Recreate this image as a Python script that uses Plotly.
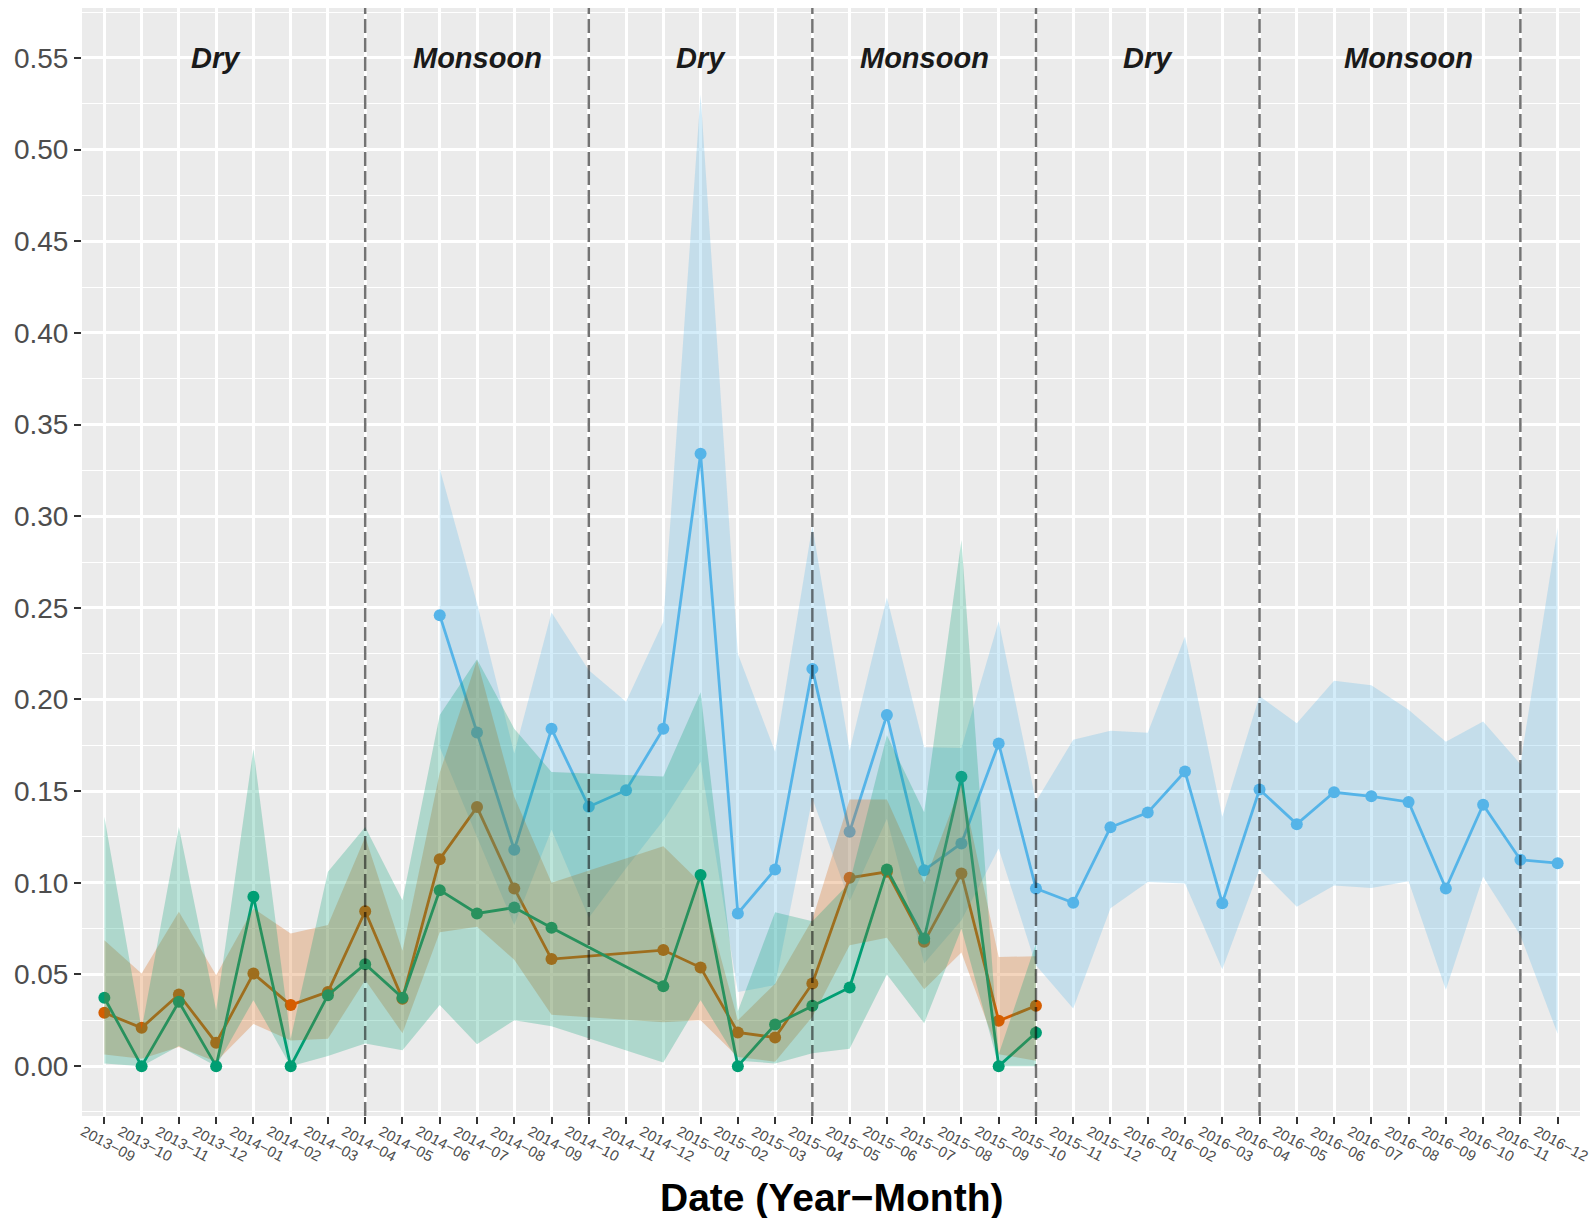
import plotly.graph_objects as go

months = ["2013−09", "2013−10", "2013−11", "2013−12", "2014−01", "2014−02", "2014−03", "2014−04",
          "2014−05", "2014−06", "2014−07", "2014−08", "2014−09", "2014−10", "2014−11", "2014−12",
          "2015−01", "2015−02", "2015−03", "2015−04", "2015−05", "2015−06", "2015−07", "2015−08",
          "2015−09", "2015−10", "2015−11", "2015−12", "2016−01", "2016−02", "2016−03", "2016−04",
          "2016−05", "2016−06", "2016−07", "2016−08", "2016−09", "2016−10", "2016−11", "2016−12"]

N = None
blue_mean = [N, N, N, N, N, N, N, N, N,
             0.246, 0.182, 0.118, 0.184, 0.1415, 0.1505, 0.184, 0.334, 0.0833, 0.1073, 0.2167,
             0.1278, 0.1915, 0.1069, 0.1215, 0.176, 0.0969, 0.0891, 0.1303, 0.1383, 0.1607,
             0.0889, 0.1509, 0.132, 0.1494, 0.1472, 0.1441, 0.0969, 0.1426, 0.1126, 0.1107]
blue_upper = [N, N, N, N, N, N, N, N, N,
              0.326, 0.2525, 0.1705, 0.2475, 0.216, 0.1987, 0.2424, 0.530, 0.225, 0.1715, 0.2947,
              0.172, 0.2556, 0.174, 0.1735, 0.2427, 0.1444, 0.178, 0.183, 0.1819, 0.2343,
              0.1361, 0.2019, 0.187, 0.2102, 0.2078, 0.1944, 0.1769, 0.188, 0.1648, 0.2935]
blue_lower = [N, N, N, N, N, N, N, N, N,
              0.174, 0.125, 0.077, 0.129, 0.081, 0.108, 0.134, 0.166, 0.0405, 0.0442, 0.146,
              0.09, 0.135, 0.056, 0.0796, 0.1187, 0.055, 0.0315, 0.0861, 0.1004, 0.0996,
              0.0528, 0.1074, 0.087, 0.0985, 0.0972, 0.1009, 0.0417, 0.1033, 0.0713, 0.0176]

orange_mean = [0.0291, 0.0209, 0.0391, 0.0127, 0.0505, 0.0333, 0.0405, 0.0845, 0.0367, 0.1129,
               0.1413, 0.0969, 0.0584, N, N, 0.0633, 0.0538, 0.0184, 0.0156, 0.0451,
               0.1027, 0.106, 0.0678, 0.1051, 0.0247, 0.0329] + [N] * 14
orange_upper = [0.0687, 0.0505, 0.0842, 0.0496, 0.086, 0.0724, 0.077, 0.125, 0.063, 0.16,
                0.2215, 0.147, 0.10, N, N, 0.12, 0.10, 0.025, 0.045, 0.08,
                0.1454, 0.1454, 0.10, 0.154, 0.0595, 0.06] + [N] * 14
orange_lower = [0.0064, 0.004, 0.0105, 0.0024, 0.023, 0.014, 0.015, 0.047, 0.018, 0.073,
                0.076, 0.058, 0.028, N, N, 0.024, 0.025, 0.005, 0.0024, 0.027,
                0.066, 0.07, 0.042, 0.062, 0.0065, 0.003] + [N] * 14

green_mean = [0.0373, 0.0, 0.0351, 0.0, 0.0924, 0.0, 0.0387, 0.0556, 0.0373, 0.096,
              0.0833, 0.0865, 0.0755, N, N, 0.0436, 0.1042, 0.0, 0.0227, 0.0329,
              0.0429, 0.1073, 0.0696, 0.1578, 0.0, 0.0182] + [N] * 14
green_upper = [0.136, 0.02, 0.1305, 0.0305, 0.173, 0.015, 0.106, 0.1305, 0.0905, 0.1915,
               0.222, 0.184, 0.1605, N, N, 0.158, 0.204, 0.03, 0.084, 0.079,
               0.10, 0.1805, 0.1385, 0.287, 0.0065, 0.067] + [N] * 14
green_lower = [0.0015, 0.0, 0.011, 0.0, 0.036, 0.0, 0.0055, 0.0124, 0.0087, 0.0333,
               0.012, 0.025, 0.0218, N, N, 0.002, 0.036, 0.003, 0.0015, 0.007,
               0.0095, 0.050, 0.0234, 0.075, 0.0, 0.0] + [N] * 14

season_labels = ["Dry", "Monsoon", "Dry", "Monsoon", "Dry", "Monsoon"]
season_months = ["2013−12", "2014−07", "2015−01", "2015−07", "2016−01", "2016−08"]
boundary_months = ["2014−04", "2014−10", "2015−04", "2015−10", "2016−04", "2016−11"]

y_ticks = [0.00, 0.05, 0.10, 0.15, 0.20, 0.25, 0.30, 0.35, 0.40, 0.45, 0.50, 0.55]

series = [
    ("#56B4E9", "rgba(86,180,233,0.26)", blue_mean, blue_upper, blue_lower),
    ("#D55E00", "rgba(213,94,0,0.26)", orange_mean, orange_upper, orange_lower),
    ("#009E73", "rgba(0,158,115,0.26)", green_mean, green_upper, green_lower),
]

fig = go.Figure()

# lines + points
for color, fill, mean, up, lo in series:
    idx = [i for i, v in enumerate(mean) if v is not None]
    fig.add_trace(go.Scatter(
        x=[months[i] for i in idx], y=[mean[i] for i in idx],
        mode="lines+markers",
        line=dict(color=color, width=2.8),
        marker=dict(color=color, size=12),
        showlegend=False, hoverinfo="skip"))

# ribbons drawn over the lines (as in the reference)
for color, fill, mean, up, lo in series:
    idx = [i for i, v in enumerate(up) if v is not None]
    xs = [months[i] for i in idx] + [months[i] for i in reversed(idx)]
    ys = [up[i] for i in idx] + [lo[i] for i in reversed(idx)]
    fig.add_trace(go.Scatter(
        x=xs, y=ys, mode="lines", fill="toself", fillcolor=fill,
        line=dict(width=0, color=fill), showlegend=False, hoverinfo="skip"))

# season boundaries
for m in boundary_months:
    fig.add_shape(type="line", xref="x", yref="paper", x0=m, x1=m, y0=0, y1=1,
                  line=dict(color="rgba(0,0,0,0.55)", width=2.5, dash="14px,5px"),
                  layer="above")

# season labels
for lab, m in zip(season_labels, season_months):
    fig.add_annotation(x=m, y=0.55, xref="x", yref="y", text="<b><i>%s</i></b>" % lab,
                       showarrow=False, font=dict(family="Liberation Sans", size=29, color="#1A1A1A"),
                       xanchor="center", yanchor="middle")

# rotated x tick labels
for m in months:
    fig.add_annotation(x=m, y=0, xref="x", yref="paper", text=m, showarrow=False,
                       textangle=28, xanchor="center", yanchor="middle",
                       xshift=4, yshift=-27,
                       font=dict(family="Liberation Sans", size=15, color="#4D4D4D"))

# x axis title
fig.add_annotation(x=0.5, y=0, xref="paper", yref="paper", text="<b>Date (Year−Month)</b>",
                   showarrow=False, xanchor="center", yanchor="middle", yshift=-81,
                   font=dict(family="Liberation Sans", size=39, color="#000000"))

fig.update_layout(
    width=1591, height=1218,
    margin=dict(l=82, r=11, t=8, b=102),
    plot_bgcolor="#EBEBEB", paper_bgcolor="#FFFFFF",
    showlegend=False,
    font=dict(family="Liberation Sans"),
    xaxis=dict(type="category", categoryorder="array", categoryarray=months,
               range=[-0.6, 39.6], showgrid=True, gridcolor="#FFFFFF", gridwidth=2.6,
               zeroline=False, showline=False, ticks="outside", ticklen=7, tickwidth=2,
               tickcolor="#333333", showticklabels=False),
    yaxis=dict(range=[-0.0272, 0.5772], tickvals=y_ticks,
               ticktext=["%.2f" % v for v in y_ticks],
               showgrid=True, gridcolor="#FFFFFF", gridwidth=2.6,
               minor=dict(dtick=0.025, tick0=0.025, showgrid=True, gridcolor="#FFFFFF",
                          gridwidth=1.3, ticks=""),
               zeroline=False, showline=False, ticks="outside", ticklen=7, tickwidth=2,
               tickcolor="#333333", tickfont=dict(family="Liberation Sans", size=28, color="#4D4D4D")),
)

fig.write_html("out.html", config={"displayModeBar": False},
               post_script="document.body.style.margin='0';document.body.style.overflow='hidden';")
